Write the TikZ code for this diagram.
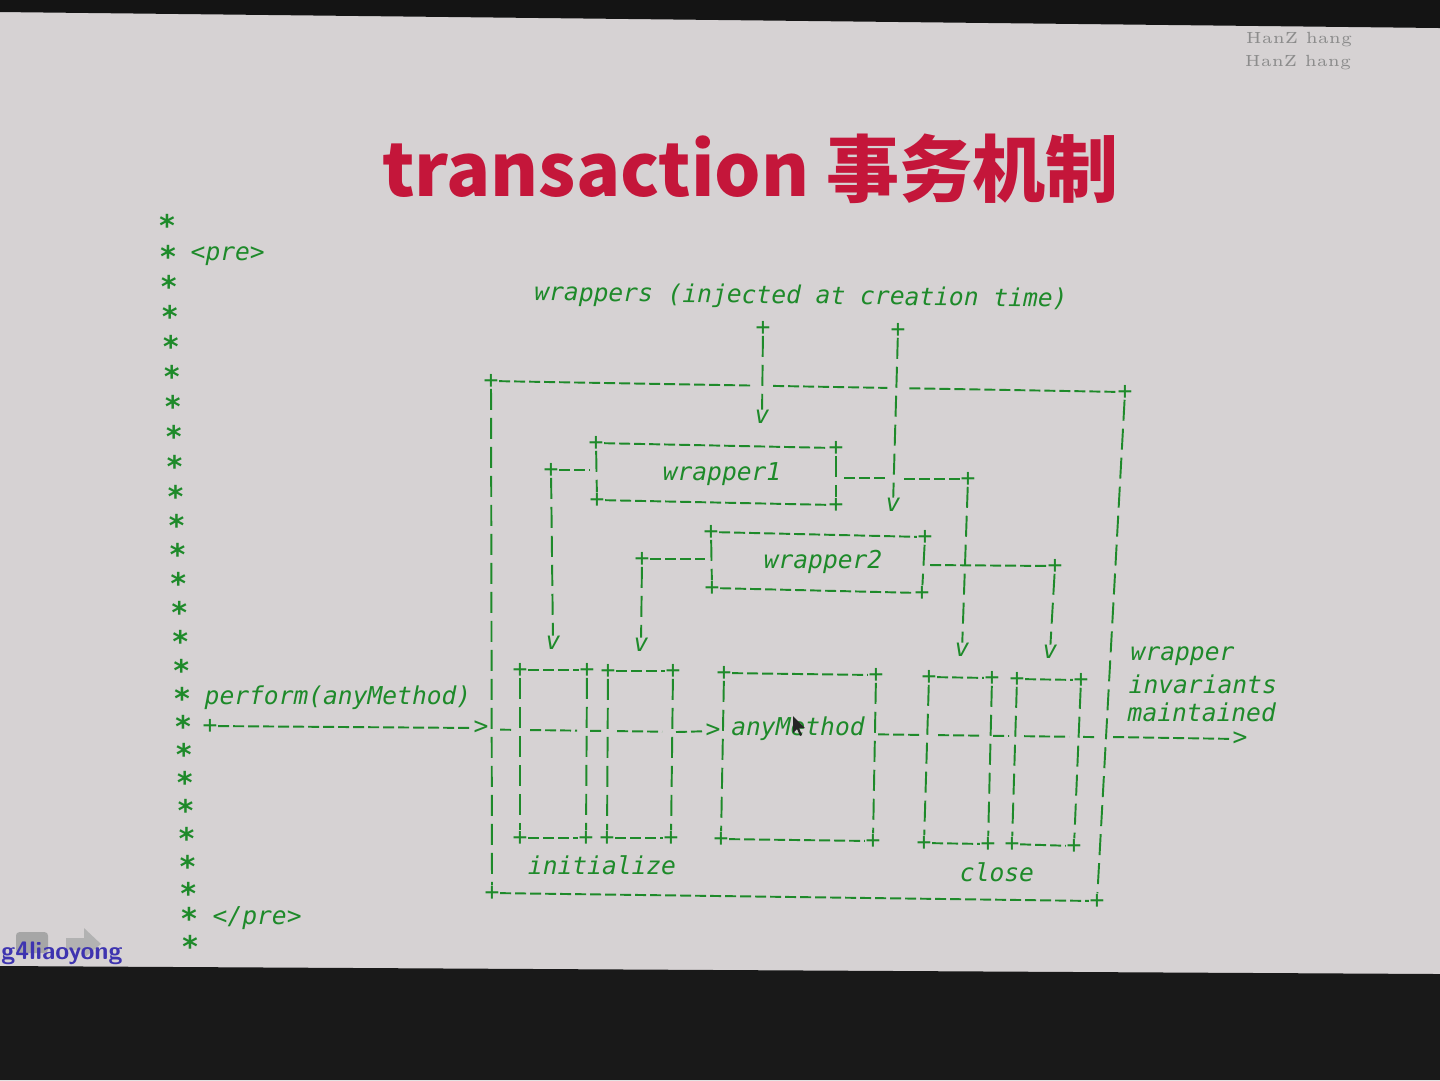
\documentclass[tikz,border=0pt]{standalone}
\usepackage{fontspec}
\newfontfamily\codefont{DejaVu Sans Mono}
\newfontfamily\titlefont{Noto Sans CJK SC}
\usetikzlibrary{positioning, calc}
\definecolor{SlideGray}{RGB}{214,210,211}
\definecolor{TermGreen}{RGB}{30,138,42}
\definecolor{TitleRed}{RGB}{196,22,58}
\definecolor{MarkBlue}{RGB}{62,52,176}

\begin{document}
\begin{tikzpicture}[x=0.1mm, y=-0.1mm,
	ascii/.style={text=TermGreen, inner sep=0pt, font=\codefont\itshape\fontsize{7}{8}\selectfont},
	glyph/.style={text=TermGreen, inner sep=0pt, font=\codefont\fontsize{7}{8}\selectfont},
	asterisk/.style={text=TermGreen, inner sep=0pt, font=\codefont\bfseries\fontsize{8.5}{9}\selectfont},
	hwire/.style={TermGreen, line width=0.55pt, dash pattern=on 1.1mm off 0.4mm},
	vwire/.style={TermGreen, line width=0.55pt, dash pattern=on 2.1mm off 0.8mm}]
	\useasboundingbox (0,0) rectangle (1440,1080);
	\fill[SlideGray] (0,0) rectangle (1440,1080);
	\fill[black!92] (0,0) -- (1440,0) -- (1440,28) -- (0,12) -- cycle;
	\fill[black!90] (0,966) -- (1440,974) -- (1440,1080) -- (0,1080) -- cycle;

	\node[text=black!45, font=\fontsize{4.6}{5}\selectfont] (mark1) at (1299,40) {HanZ hang};
	\node[text=black!45, font=\fontsize{4.6}{5}\selectfont] (mark2) at (1298,63) {HanZ hang};
	\node[anchor=base west, text=TitleRed, font=\titlefont\bfseries\fontsize{20.8}{24}\selectfont] (title) at (370,196) {transaction 事务机制};

	\foreach \ya [count=\i] in {225,256,286,316,346,376,406,436,466,496,525,554,583,612,641,670,698,726,754,782,810,838,866,893,918,946}
		\node[asterisk] (ast\i) at ({167+(\ya-225)*0.032},\ya) {*};
	\node[ascii, anchor=west] (pre) at (190,256) {<pre>};
	\node[ascii, anchor=west] (endpre) at (212,918) {</pre>};
	\node[ascii, anchor=west] (perform) at (204,698) {perform(anyMethod)};
	\node[ascii, rotate=-0.7] (inject) at (801,297) {wrappers (injected at creation time)};

	% outer frame
	\node[glyph] (o-tl) at (491,381) {+};
	\node[glyph] (o-tr) at (1125,392) {+};
	\node[glyph] (o-bl) at (492,893) {+};
	\node[glyph] (o-br) at (1097,901) {+};
	\draw[hwire] (o-tl) -- ($(o-tl)!0.412!(o-tr)$);
	\draw[hwire] ($(o-tl)!0.445!(o-tr)$) -- ($(o-tl)!0.625!(o-tr)$);
	\draw[hwire] ($(o-tl)!0.66!(o-tr)$) -- (o-tr);
	\draw[vwire] (o-tl) -- (o-bl);
	\draw[vwire] (o-tr) -- (o-br);
	\draw[hwire] (o-bl) -- (o-br);

	% injected wrappers
	\node[glyph] (in1) at (763,328) {+};
	\node[ascii] (in1v) at (762,417) {v};
	\draw[vwire] (in1) -- (in1v);
	\node[glyph] (in2) at (898,330) {+};
	\node[ascii] (in2v) at (893,505) {v};
	\draw[vwire] (in2) -- (in2v);

	% wrapper1
	\node[glyph] (w1-tl) at (596,443) {+};
	\node[glyph] (w1-tr) at (836,448) {+};
	\node[glyph] (w1-bl) at (597,500) {+};
	\node[glyph] (w1-br) at (836,505) {+};
	\draw[hwire] (w1-tl) -- (w1-tr);
	\draw[hwire] (w1-bl) -- (w1-br);
	\draw[vwire] (w1-tl) -- (w1-bl);
	\draw[vwire] (w1-tr) -- (w1-br);
	\node[ascii] (w1) at (722,474) {wrapper1};
	\node[glyph] (w1-l) at (551,470) {+};
	\draw[hwire] (w1-l) -- ($(w1-l -| w1-tl)+(-6,0)$);
	\node[ascii] (w1-lv) at (553,643) {v};
	\draw[vwire] (w1-l) -- (w1-lv);
	\node[glyph] (w1-r) at (968,479) {+};
	\draw[hwire] ($(w1-r -| w1-br)+(8,-1)$) -- ($(w1-r -| in2)+(-12,-1)$);
	\draw[hwire] ($(w1-r -| in2)+(6,0)$) -- (w1-r);
	\node[ascii] (w1-rv) at (962,650) {v};
	\draw[vwire] (w1-r) -- (w1-rv);

	% wrapper2
	\node[glyph] (w2-tl) at (711,532) {+};
	\node[glyph] (w2-tr) at (925,537) {+};
	\node[glyph] (w2-bl) at (712,588) {+};
	\node[glyph] (w2-br) at (922,593) {+};
	\draw[hwire] (w2-tl) -- (w2-tr);
	\draw[hwire] (w2-bl) -- (w2-br);
	\draw[vwire] (w2-tl) -- (w2-bl);
	\draw[vwire] (w2-tr) -- (w2-br);
	\node[ascii] (w2) at (823,562) {wrapper2};
	\node[glyph] (w2-l) at (642,559) {+};
	\draw[hwire] (w2-l) -- ($(w2-l -| w2-tl)+(-6,0)$);
	\node[ascii] (w2-lv) at (641,645) {v};
	\draw[vwire] (w2-l) -- (w2-lv);
	\node[glyph] (w2-r) at (1055,566) {+};
	\draw[hwire] ($(w2-r -| w2-br)+(8,-1)$) -- (w2-r);
	\node[ascii] (w2-rv) at (1050,652) {v};
	\draw[vwire] (w2-r) -- (w2-rv);

	% initialize, anyMethod, close
	\foreach \nm/\xa/\ya/\xb/\yb/\xc/\yc/\xd/\yd in {
		i1/520/670/587/670/520/838/586/838,
		i2/608/671/673/671/607/838/671/838,
		am/724/673/876/675/721/839/873/841,
		c1/929/677/992/678/924/843/988/844,
		c2/1017/679/1081/680/1012/844/1074/846}{
		\node[glyph] (\nm-tl) at (\xa,\ya) {+};
		\node[glyph] (\nm-tr) at (\xb,\yb) {+};
		\node[glyph] (\nm-bl) at (\xc,\yc) {+};
		\node[glyph] (\nm-br) at (\xd,\yd) {+};
		\draw[hwire] (\nm-tl) -- (\nm-tr);
		\draw[hwire] (\nm-bl) -- (\nm-br);
		\draw[vwire] (\nm-tl) -- (\nm-bl);
		\draw[vwire] (\nm-tr) -- (\nm-br);
	}
	\node[ascii] (am) at (798,729) {anyMethod};
	\node[ascii] (init) at (602,865) {initialize};
	\node[ascii] (close) at (997,872) {close};
	\node[ascii, anchor=west] (inv1) at (1130,656) {wrapper};
	\node[ascii, anchor=west] (inv2) at (1128,684) {invariants};
	\node[ascii, anchor=west] (inv3) at (1127,712) {maintained};

	% method call path
	\node[glyph] (pf) at (210,726) {+};
	\node[glyph] (pf-in) at (481,728) {>};
	\draw[hwire] (pf) -- (pf-in);
	\foreach \xa/\xb in {500/514, 530/577, 590/604, 617/662, 878/921, 938/980, 993/1009, 1024/1069, 1083/1097}
		\draw[hwire] (\xa,{726+(\xa-210)*0.0125}) -- (\xb,{726+(\xb-210)*0.0125});
	\node[glyph] (am-in) at (713,731) {>};
	\draw[hwire] (676,732) -- (am-in);
	\node[glyph] (out) at (1240,739) {>};
	\draw[hwire] (1113,737) -- (out);

	% pointer
	\fill[black!85] (793,716) -- (793,733) -- (797,729) -- (800,736) -- (802,735) -- (799,728) -- (805,728) -- cycle;

	% toolbar remains
	\fill[black!35, rounded corners=1pt] (16,932) rectangle (48,953);
	\fill[black!30] (66,938) -- (84,938) -- (84,928) -- (101,944) -- (84,958) -- (84,950) -- (66,950) -- cycle;
	\node[anchor=west, text=MarkBlue, font=\sffamily\bfseries\fontsize{7.2}{8}\selectfont] (user) at (-11,953) {g4liaoyong};
\end{tikzpicture}
\end{document}
